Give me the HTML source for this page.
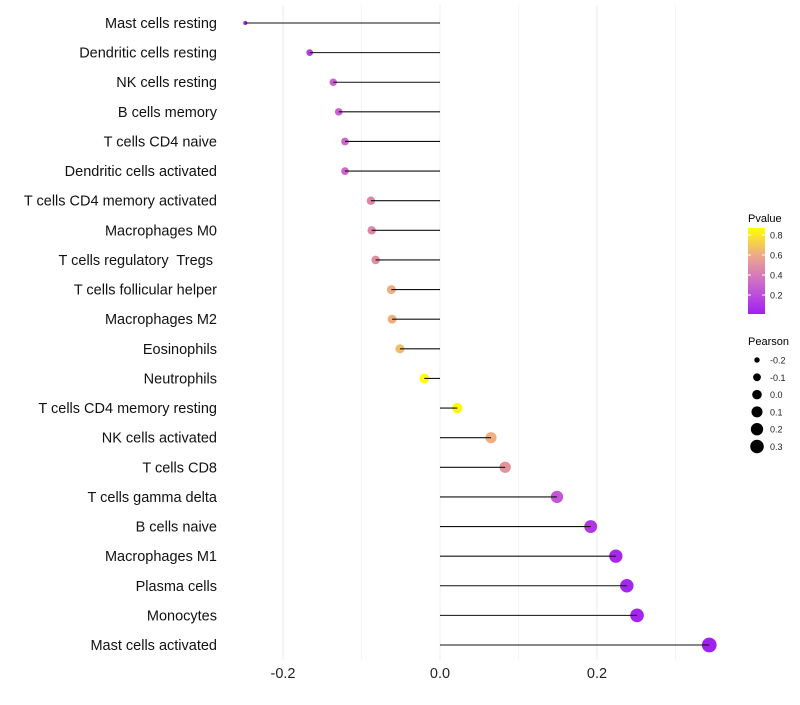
<!DOCTYPE html>
<html><head><meta charset="utf-8"><style>
body{margin:0;background:#fff;font-family:"Liberation Sans",Arial,sans-serif}
svg text{font-family:"Liberation Sans",Arial,sans-serif;white-space:pre}
</style></head><body>
<svg id="chart" width="800" height="700">
<g id="grid"></g>
<g id="marks"></g>
<g id="ylabels"></g>
<g id="xlabels"></g>
<g>
<defs><linearGradient id="pg" x1="0" y1="1" x2="0" y2="0">
<stop offset="0" stop-color="#a020f0"/><stop offset="0.35" stop-color="#cc66cc"/><stop offset="0.68" stop-color="#eda88a"/><stop offset="1" stop-color="#ffff00"/></linearGradient></defs>
<text x="748" y="222" font-size="11">Pvalue</text>
<rect x="748" y="228" width="17" height="86" fill="url(#pg)"/>
<g id="pticks"></g>
</g>
<g id="sizeleg">
<text x="748" y="345" font-size="11">Pearson</text>
</g>
</svg>
<script>
const categories=["Mast cells resting","Dendritic cells resting","NK cells resting","B cells memory","T cells CD4 naive","Dendritic cells activated","T cells CD4 memory activated","Macrophages M0","T cells regulatory  Tregs ","T cells follicular helper","Macrophages M2","Eosinophils","Neutrophils","T cells CD4 memory resting","NK cells activated","T cells CD8","T cells gamma delta","B cells naive","Macrophages M1","Plasma cells","Monocytes","Mast cells activated"];
const pearson=[-0.248,-0.166,-0.136,-0.129,-0.121,-0.121,-0.088,-0.087,-0.082,-0.062,-0.061,-0.051,-0.020,0.022,0.065,0.083,0.149,0.192,0.224,0.238,0.251,0.343];
const pvalue=[0.02,0.15,0.3,0.3,0.32,0.32,0.45,0.45,0.48,0.6,0.6,0.65,0.87,0.85,0.6,0.5,0.25,0.12,0.06,0.05,0.04,0.01];
const xTicks=[-0.2,0.0,0.2];
const xTickLabels=["-0.2","0.0","0.2"];
const pTicks=[0.2,0.4,0.6,0.8];
const sizeTicks=[-0.2,-0.1,0.0,0.1,0.2,0.3];
const NS="http://www.w3.org/2000/svg";
function mk(t,a,p){const e=document.createElementNS(NS,t);for(const k in a)e.setAttribute(k,a[k]);p.appendChild(e);return e;}
const xS=v=>440+v*785;
const yS=i=>23+i*(622/21);
const pY=p=>313-(p-0.02)*(85/0.85);
const rS=v=>Math.sqrt(4+(v+0.25)*85);
const stops=[[0,[160,32,240]],[0.35,[204,102,204]],[0.68,[240,172,128]],[1,[255,255,0]]];
function col(p){let t=Math.max(0,Math.min(1,(p-0.02)/0.85));for(let i=1;i<stops.length;i++){if(t<=stops[i][0]){const a=stops[i-1],b=stops[i];const f=(t-a[0])/(b[0]-a[0]);return 'rgb('+a[1].map((c,j)=>Math.round(c+(b[1][j]-c)*f)).join(',')+')';}}return 'rgb(255,255,0)';}
const grid=document.getElementById('grid');
[-0.3,-0.2,-0.1,0,0.1,0.2,0.3].forEach(v=>{const x=xS(v);if(x<225||x>740)return;const l=mk('line',{x1:x,x2:x,y1:5,y2:660,stroke:Math.abs(Math.round(v*10))%2==0?'#ebebeb':'#f4f4f4','stroke-width':1},grid);

});
const marks=document.getElementById('marks'),yl=document.getElementById('ylabels');
categories.forEach((c,i)=>{const y=yS(i);
const d=mk('circle',{cx:xS(pearson[i]),cy:y,r:rS(pearson[i]),fill:col(pvalue[i])},marks);


const s=mk('line',{x1:xS(0),x2:xS(pearson[i]),y1:y,y2:y,stroke:'#111','stroke-width':1.1},marks);


const t=mk('text',{x:217,y:y+5,'text-anchor':'end','font-size':14.5,fill:'#111'},yl);t.textContent=c;

});
const xl=document.getElementById('xlabels');
xTicks.forEach((v,i)=>{const t=mk('text',{x:xS(v),y:678,'text-anchor':'middle','font-size':14.5,fill:'#222'},xl);t.textContent=xTickLabels[i];

});
const pt=document.getElementById('pticks');
pTicks.forEach(p=>{const y=pY(p);mk('line',{x1:748,x2:751,y1:y,y2:y,stroke:'#fff'},pt);mk('line',{x1:762,x2:765,y1:y,y2:y,stroke:'#fff'},pt);
const t=mk('text',{x:770,y:y+3.5,'font-size':9,fill:'#222'},pt);t.textContent=p.toFixed(1);

});
const sl=document.getElementById('sizeleg');
sizeTicks.forEach((v,i)=>{const y=360+i*17.3;const c=mk('circle',{cx:757,cy:y,r:rS(v)*0.95,fill:'#000'},sl);


const t=mk('text',{x:770,y:y+3.5,'font-size':9,fill:'#222'},sl);t.textContent=v.toFixed(1);

});
</script>
</body></html>
